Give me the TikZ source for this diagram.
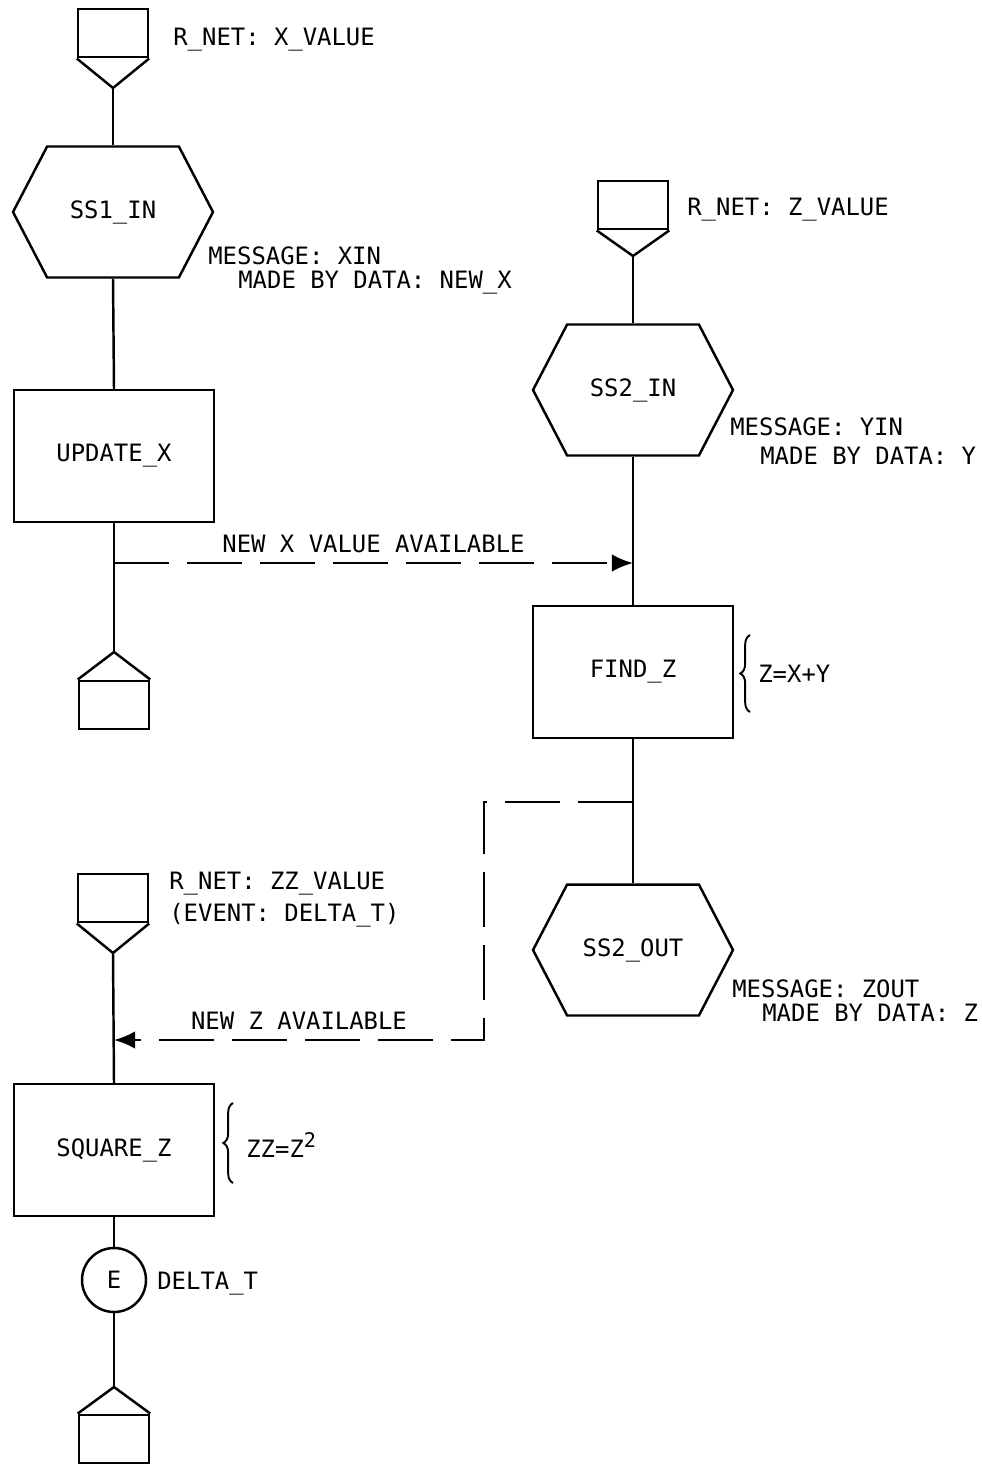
\documentclass[tikz,border=0pt]{standalone}
\usepackage{fontspec}
\setmainfont{DejaVu Sans Mono}
\usetikzlibrary{arrows.meta,shapes.symbols,decorations.pathreplacing,calc}
\tikzset{
  procbox/.style={rectangle,draw,line width=1.4pt,minimum width=4cm,minimum height=2.64cm},
  msgnode/.style={signal,draw,line width=1.4pt,signal to=east and west,signal pointer angle=125,minimum width=4cm,minimum height=2.62cm},
  netbox/.style={rectangle,draw,line width=1.4pt,minimum width=1.4cm,minimum height=0.97cm},
  evnode/.style={circle,draw,line width=1.4pt,minimum size=1.28cm,inner sep=0pt},
  lbl/.style={anchor=base west,inner sep=0pt},
  flow/.style={line width=1.4pt},
  sigflow/.style={line width=1.4pt,dash pattern=on 1.1cm off 0.36cm},
  notebrace/.style={decorate,decoration={brace,amplitude=5.5pt},line width=1.1pt}
}

\begin{document}
\begin{tikzpicture}[x=0.02cm,y=-0.02cm,font=\fontsize{13.6}{16}\selectfont,>={Latex[length=12pt,width=10pt]}]
  \useasboundingbox (0,0) rectangle (982,1466);
  % X input
  \node[netbox] (rx) at (113,33) {};
  \coordinate (rxtip) at (113,88);
  \draw[flow] (rx.south west) -- (rxtip) -- (rx.south east);
  \node[lbl] (rxl) at (173,46) {R\_NET: X\_VALUE};
  \node[msgnode] (ss1) at (113,212) {SS1\_IN};
  \node[lbl] (ss1m) at (208,265) {MESSAGE: XIN};
  \node[lbl] (ss1d) at (238,289) {MADE BY DATA: NEW\_X};
  \node[procbox] (updx) at (114,456) {UPDATE\_X};
  \coordinate (xsplit) at (114,563);
  \coordinate (txtip) at (114,652);
  \node[netbox] (tx) at (114,705) {};
  \draw[flow] (tx.north west) -- (txtip) -- (tx.north east);
  \draw[flow] (rxtip) -- (ss1.north);
  \draw[flow] (ss1.south) -- (updx.north);
  \draw[flow] (updx.south) -- (txtip);
  % Z input
  \node[netbox] (rz) at (633,205) {};
  \coordinate (rztip) at (633,256);
  \draw[flow] (rz.south west) -- (rztip) -- (rz.south east);
  \node[lbl] (rzl) at (687,216) {R\_NET: Z\_VALUE};
  \node[msgnode] (ss2) at (633,390) {SS2\_IN};
  \node[lbl] (ss2m) at (730,435) {MESSAGE: YIN};
  \node[lbl] (ss2d) at (760,464) {MADE BY DATA: Y};
  \coordinate (zjoin) at (633,563);
  \node[procbox] (findz) at (633,672) {FIND\_Z};
  \draw[notebrace] (750,712) -- (750,635);
  \node[lbl] (findzn) at (758,682) {Z=X+Y};
  \coordinate (zsplit) at (633,802);
  \node[msgnode] (ss2o) at (633,950) {SS2\_OUT};
  \node[lbl] (ss2om) at (732,997) {MESSAGE: ZOUT};
  \node[lbl] (ss2od) at (762,1021) {MADE BY DATA: Z};
  \draw[flow] (rztip) -- (ss2.north);
  \draw[flow] (ss2.south) -- (findz.north);
  \draw[flow] (findz.south) -- (ss2o.north);
  % ZZ input
  \node[netbox] (rzz) at (113,898) {};
  \coordinate (rzztip) at (113,953);
  \draw[flow] (rzz.south west) -- (rzztip) -- (rzz.south east);
  \node[lbl] (rzzl) at (169,889) {R\_NET: ZZ\_VALUE};
  \node[lbl] (rzze) at (169,921) {(EVENT: DELTA\_T)};
  \coordinate (zzjoin) at (114,1040);
  \coordinate (zbend) at (484,1040);
  \node[procbox] (sqz) at (114,1150) {SQUARE\_Z};
  \draw[notebrace] (233,1183) -- (233,1103);
  \node[lbl] (sqzn) at (246,1157) {ZZ=Z\raisebox{0.7ex}{\fontsize{11.5}{12}\selectfont 2}};
  \node[evnode] (evt) at (114,1280) {E};
  \node[lbl] (evtl) at (157,1289) {DELTA\_T};
  \coordinate (tzztip) at (114,1387);
  \node[netbox] (tzz) at (114,1439) {};
  \draw[flow] (tzz.north west) -- (tzztip) -- (tzz.north east);
  \draw[flow] (rzztip) -- (sqz.north);
  \draw[flow] (sqz.south) -- (evt.north);
  \draw[flow] (evt.south) -- (tzztip);
  % signals
  \draw[sigflow,->] (xsplit) -- (zjoin) node[midway,above=2pt] {NEW X VALUE AVAILABLE};
  \draw[sigflow,->] (zsplit) -| (zbend) -- (zzjoin) node[midway,above=2pt] {NEW Z AVAILABLE};
\end{tikzpicture}
\end{document}
